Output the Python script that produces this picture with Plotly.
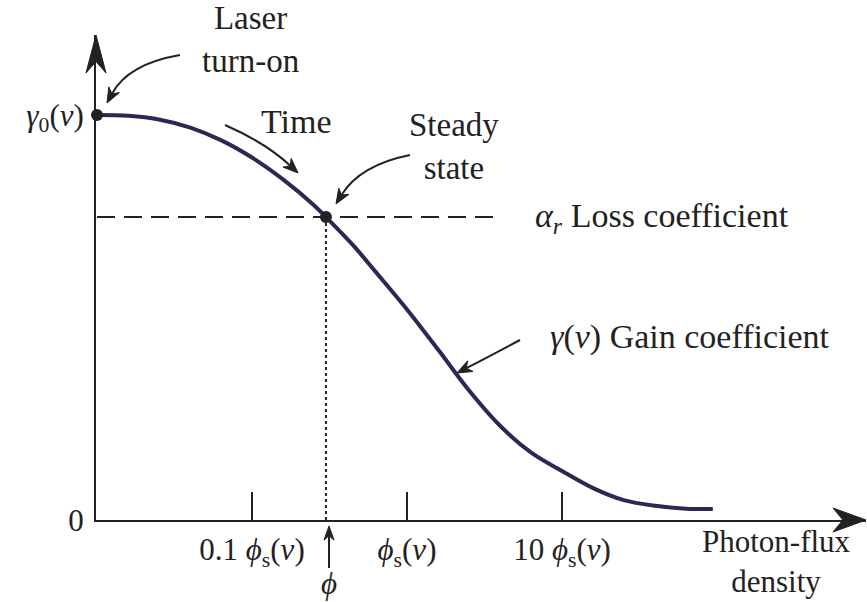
import math
import plotly.graph_objects as go

# ---- data (x in units of phi_s, y in units of gamma_0) ----
flux = [0.01, 0.016, 0.025, 0.04, 0.063, 0.1, 0.16, 0.25, 0.30, 0.45, 0.63, 1.0, 1.6, 2.5, 4.0, 6.3, 10, 16, 25, 40, 63, 94]
gain = [1.0, 0.998, 0.989, 0.969, 0.938, 0.895, 0.840, 0.778, 0.748, 0.678, 0.612, 0.520, 0.419, 0.321, 0.232, 0.167, 0.121, 0.078, 0.049, 0.035, 0.028, 0.027]
loss_level = 0.748
loss_x = [0.01, 3.9]
steady_flux = 0.30
turn_on = (0.01, 1.0)
tick_vals = [0.1, 1, 10]
tick_text = ["0.1 <i>ϕ</i><sub>s</sub>(<i>ν</i>)", "<i>ϕ</i><sub>s</sub>(<i>ν</i>)", "10 <i>ϕ</i><sub>s</sub>(<i>ν</i>)"]
ytick_vals = [0, 1]
ytick_text = ["0", "<i>γ</i><sub>0</sub>(<i>ν</i>)"]

FONT = "Liberation Serif"
INK = "#222222"
CURVE = "#2b2856"

W_FIG, H_FIG = 867, 602
ML, MR, MT, MB = 96, 1, 35, 82
PW = W_FIG - ML - MR
PH = H_FIG - MT - MB
X0PX = ML
Y0PX = H_FIG - MB
PX_PER_DEC = 155
PX_PER_GAIN = 405
XPX_1 = 407  # pixel of phi_s

xr0 = (X0PX - XPX_1) / PX_PER_DEC
xr1 = (X0PX + PW - XPX_1) / PX_PER_DEC
yr1 = PH / PX_PER_GAIN


def P(px, py):
    return (px - ML) / PW, (Y0PX - py) / PH


fig = go.Figure()

fig.add_trace(go.Scatter(x=loss_x, y=[loss_level, loss_level], mode="lines",
                         line=dict(color=INK, width=2, dash="18px,9px"), hoverinfo="skip"))
fig.add_trace(go.Scatter(x=[steady_flux, steady_flux], y=[0, loss_level], mode="lines",
                         line=dict(color=INK, width=2, dash="3px,3px"), hoverinfo="skip"))
fig.add_trace(go.Scatter(x=flux, y=gain, mode="lines",
                         line=dict(color=CURVE, width=4, shape="spline", smoothing=1.0), hoverinfo="skip"))
fig.add_trace(go.Scatter(x=[turn_on[0], steady_flux], y=[turn_on[1], loss_level], mode="markers",
                         marker=dict(color=INK, size=12), hoverinfo="skip", cliponaxis=False))

shapes = []


def path_str(pts, close=False):
    s = ""
    for i, (px, py) in enumerate(pts):
        x, y = P(px, py)
        s += ("M" if i == 0 else "L") + f" {x:.5f},{y:.5f} "
    if close:
        s += "Z"
    return s


def head(tip, d, length=15, half=6):
    n = math.hypot(*d)
    dx, dy = d[0] / n, d[1] / n
    nx, ny = -dy, dx
    bx, by = tip[0] - length * dx, tip[1] - length * dy
    notch = (tip[0] - 0.7 * length * dx, tip[1] - 0.7 * length * dy)
    pts = [tip, (bx + half * nx, by + half * ny), notch, (bx - half * nx, by - half * ny)]
    shapes.append(dict(type="path", path=path_str(pts, True), xref="paper", yref="paper",
                       fillcolor=INK, line=dict(color=INK, width=1), layer="above"))
    return notch


def curved_arrow(start, ctrl, tip, length=15, half=6):
    d = (tip[0] - ctrl[0], tip[1] - ctrl[1])
    end = head(tip, d, length, half)
    s = P(*start)
    c = P(*ctrl)
    e = P(*end)
    shapes.append(dict(type="path", path=f"M {s[0]:.5f},{s[1]:.5f} Q {c[0]:.5f},{c[1]:.5f} {e[0]:.5f},{e[1]:.5f}",
                       xref="paper", yref="paper", line=dict(color=INK, width=2), layer="above"))


# axis arrowheads
head((96, 35), (0, -1), length=38, half=10)
head((866, 520), (1, 0), length=33, half=12)

curved_arrow((180, 55), (128, 64), (107, 103))
curved_arrow((225, 125), (266, 143), (298, 173))
curved_arrow((410, 155), (360, 165), (336, 204))
curved_arrow((520, 340), (488, 357), (457, 373))
curved_arrow((329, 568), (329, 548), (329, 526), length=14, half=5)

annotations = []


def label(text, px, py, anchor="center", size=34):
    x, y = P(px, py)
    annotations.append(dict(text=text, x=x, y=y, xref="paper", yref="paper", showarrow=False,
                            xanchor=anchor, yanchor="middle", align="center",
                            font=dict(family=FONT, size=size, color=INK)))


label("Laser<br>turn-on", 250, 40, size=33)
label("Time", 296, 121)
label("Steady<br>state", 454, 146, size=33)
label("<i>α</i><sub><i>r</i></sub> Loss coefficient", 533, 218, anchor="left")
label("<i>γ</i>(<i>ν</i>) Gain coefficient", 548, 337, anchor="left")
label("Photon-flux<br>density", 776, 561, size=31)
label("<i>ϕ</i>", 329, 583, size=31)

fig.update_layout(
    width=W_FIG, height=H_FIG,
    margin=dict(l=ML, r=MR, t=MT, b=MB),
    paper_bgcolor="white", plot_bgcolor="white",
    font=dict(family=FONT, color=INK),
    showlegend=False,
    shapes=shapes, annotations=annotations,
    xaxis=dict(type="log", range=[xr0, xr1], showgrid=False, zeroline=False,
               showline=True, linecolor=INK, linewidth=2,
               tickvals=tick_vals, ticktext=tick_text, ticks="inside", ticklen=28,
               tickwidth=2, tickcolor=INK, ticklabelstandoff=1,
               tickfont=dict(family=FONT, size=31, color=INK)),
    yaxis=dict(range=[0, yr1], showgrid=False, zeroline=False,
               showline=True, linecolor=INK, linewidth=2,
               tickvals=ytick_vals, ticktext=ytick_text, ticks="", ticklabelstandoff=4,
               tickfont=dict(family=FONT, size=31, color=INK)),
)

fig.write_html("out.html")
